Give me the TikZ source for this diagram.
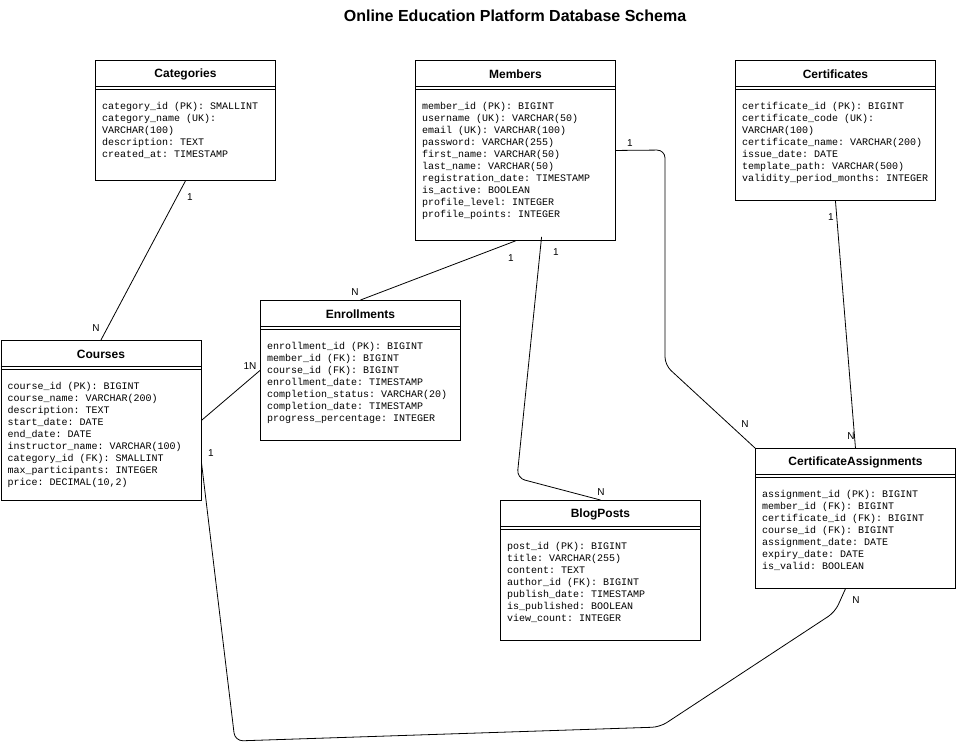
\documentclass[tikz,border=0pt]{standalone}
\usepackage{fontspec}
\setmainfont{Liberation Sans}
\setmonofont{Liberation Mono}
\usetikzlibrary{calc}
\tikzset{
  ent/.style={draw, line width=0.9pt, anchor=north west, inner sep=0pt, fill=white},
  enttitle/.style={font=\fontsize{12}{14}\selectfont\bfseries, inner sep=0pt},
  fields/.style={font=\fontsize{10}{12}\selectfont\ttfamily, align=left, anchor=north west, inner sep=0pt},
  rel/.style={draw, line width=0.8pt, rounded corners=8pt},
  card/.style={font=\fontsize{10}{12}\selectfont, inner sep=0pt},
  hdr/.style={line width=0.9pt},
}
\newcommand{\entity}[7]{%
  \node[ent, minimum width=#4pt, minimum height=#5pt] (#1) at (#2,#3) {};
  \node[enttitle] (#1-t) at ($(#1.north)+(0,14)$) {#6};
  \draw[hdr] ($(#1.north west)+(0,26)$) -- ($(#1.north east)+(0,26)$);
  \draw[hdr] ($(#1.north west)+(0,29)$) -- ($(#1.north east)+(0,29)$);
  \node[fields] (#1-f) at ($(#1.north west)+(7,42.5)$) {#7};
}
\begin{document}
\begin{tikzpicture}[x=1pt,y=-1pt]
\useasboundingbox[fill=white] (0,0) rectangle (957,742);

\node[font=\fontsize{16}{19}\selectfont\bfseries, inner sep=0pt] (title) at (515,16) {Online Education Platform Database Schema};

\entity{cat}{95}{60}{180}{120}{Categories}{category\_id (PK): SMALLINT\\category\_name (UK):\\VARCHAR(100)\\description: TEXT\\created\_at: TIMESTAMP}
\entity{mem}{415}{60}{200}{180}{Members}{member\_id (PK): BIGINT\\username (UK): VARCHAR(50)\\email (UK): VARCHAR(100)\\password: VARCHAR(255)\\first\_name: VARCHAR(50)\\last\_name: VARCHAR(50)\\registration\_date: TIMESTAMP\\is\_active: BOOLEAN\\profile\_level: INTEGER\\profile\_points: INTEGER}
\entity{cert}{735}{60}{200}{140}{Certificates}{certificate\_id (PK): BIGINT\\certificate\_code (UK):\\VARCHAR(100)\\certificate\_name: VARCHAR(200)\\issue\_date: DATE\\template\_path: VARCHAR(500)\\validity\_period\_months: INTEGER}
\entity{crs}{0.5}{340}{200}{160}{Courses}{course\_id (PK): BIGINT\\course\_name: VARCHAR(200)\\description: TEXT\\start\_date: DATE\\end\_date: DATE\\instructor\_name: VARCHAR(100)\\category\_id (FK): SMALLINT\\max\_participants: INTEGER\\price: DECIMAL(10,2)}
\entity{enr}{260}{300}{200}{140}{Enrollments}{enrollment\_id (PK): BIGINT\\member\_id (FK): BIGINT\\course\_id (FK): BIGINT\\enrollment\_date: TIMESTAMP\\completion\_status: VARCHAR(20)\\completion\_date: TIMESTAMP\\progress\_percentage: INTEGER}
\entity{blog}{500}{500}{200}{140}{BlogPosts}{post\_id (PK): BIGINT\\title: VARCHAR(255)\\content: TEXT\\author\_id (FK): BIGINT\\publish\_date: TIMESTAMP\\is\_published: BOOLEAN\\view\_count: INTEGER}
\entity{ca}{755}{448}{200}{140}{CertificateAssignments}{assignment\_id (PK): BIGINT\\member\_id (FK): BIGINT\\certificate\_id (FK): BIGINT\\course\_id (FK): BIGINT\\assignment\_date: DATE\\expiry\_date: DATE\\is\_valid: BOOLEAN}

% connectors
\draw[rel] (cat.south) -- (crs.north);
\draw[rel] (mem.south) -- (enr.north);
\draw[rel] ($(mem.south west)!0.63!(mem.south east)+(0,-4)$) -- (517,478) -- (blog.north);
\draw[rel] (mem.east) -- (665,150) -- (665,365) -- (ca.north west);
\draw[rel] (cert.south) -- (ca.north);
\draw[rel] (crs.east) -- (enr.west);
\draw[rel] ($(crs.north east)+(0,122)$) -- (235,741) -- (660,727) -- (835,612) -- ($(ca.south west)!0.45!(ca.south east)$);

% cardinalities
\node[card] (l1) at (190,197) {1};
\node[card] (l2) at (96,328) {N};
\node[card] (l3) at (511,258) {1};
\node[card] (l4) at (355,292) {N};
\node[card] (l5) at (556,252) {1};
\node[card] (l6) at (601,492) {N};
\node[card] (l7) at (630,143) {1};
\node[card] (l8) at (745,424) {N};
\node[card] (l9) at (831,217) {1};
\node[card] (l10) at (851,436) {N};
\node[card] (l11) at (250,366) {1N};
\node[card] (l12) at (211,453) {1};
\node[card] (l13) at (856,600) {N};
\end{tikzpicture}
\end{document}
